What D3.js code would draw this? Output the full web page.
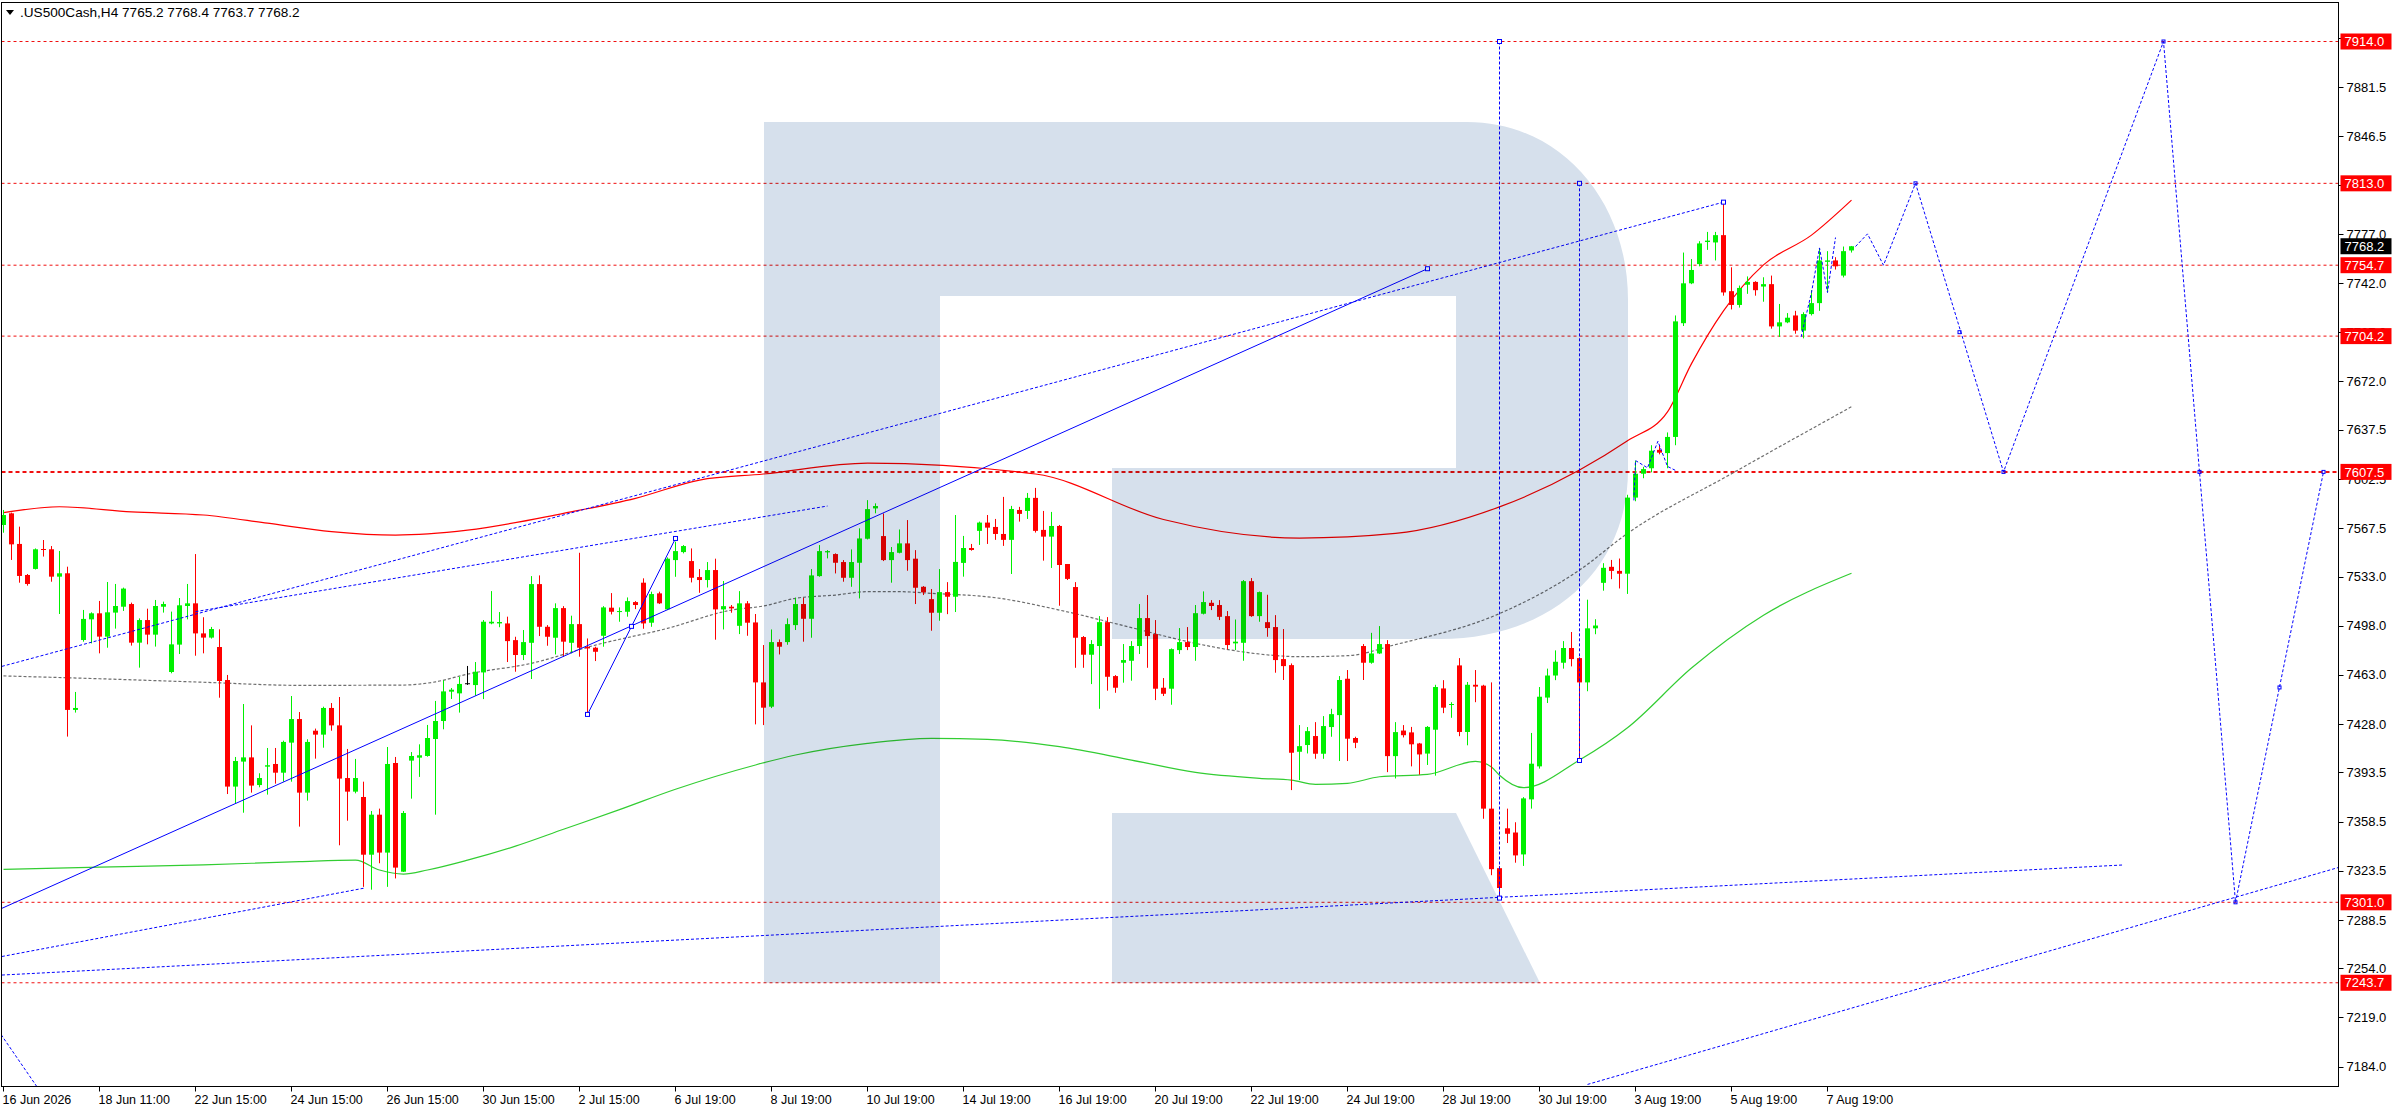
<!DOCTYPE html>
<html>
<head>
<meta charset="utf-8">
<script src="https://cdn.jsdelivr.net/npm/d3@7"></script>
<style>
body { margin: 0; background: #fff; }
svg { display: block; font-family: "Liberation Sans", Arial, sans-serif; }
</style>
</head>
<body>
<svg width="2396" height="1110"></svg>
<script>
// .US500Cash H4 candles, bar 0 = 16 Jun 2026
const opens = [7569.7,7578.0,7556.2,7534.1,7538.4,7552.6,7552.4,7532.9,7535.3,7438.0,
7487.8,7502.5,7506.8,7490.2,7507.3,7511.5,7513.4,7485.9,7502.0,7491.6,
7511.5,7465.0,7484.5,7512.0,7513.9,7492.5,7489.5,7482.8,7459.3,7383.4,
7401.2,7404.2,7384.5,7397.6,7399.5,7393.3,7414.7,7431.5,7379.1,7423.2,
7420.4,7439.4,7427.0,7389.5,7379.8,7376.0,7334.9,7363.4,7336.4,7400.2,
7322.8,7401.9,7404.0,7405.2,7417.3,7430.1,7451.0,7449.8,7457.0,7455.7,
7464.7,7499.6,7499.6,7499.6,7487.7,7477.1,7485.8,7527.6,7497.2,7489.4,
7510.5,7485.8,7499.1,7483.0,7482.3,7490.8,7510.8,7508.0,7507.9,7514.8,
7528.6,7500.1,7521.0,7509.6,7544.7,7550.4,7544.0,7532.6,7530.5,7537.6,
7509.6,7511.5,7497.9,7513.9,7500.3,7457.6,7440.3,7486.3,7486.3,7498.4,
7513.4,7502.9,7533.3,7550.2,7549.0,7543.3,7532.1,7542.8,7559.9,7581.5,
7561.8,7544.7,7549.9,7556.6,7545.7,7525.7,7516.9,7507.2,7521.9,7518.6,
7542.7,7553.3,7565.5,7571.4,7568.3,7563.3,7559.1,7580.4,7579.7,7589.0,
7566.2,7561.4,7569.0,7541.9,7525.5,7489.9,7477.3,7483.5,7500.5,7462.1,
7471.6,7473.0,7483.5,7503.4,7492.0,7453.8,7453.1,7480.6,7486.3,7482.8,
7506.5,7514.3,7512.7,7504.8,7485.4,7485.8,7529.7,7504.8,7500.5,7497.0,
7474.2,7469.9,7408.2,7413.0,7419.4,7406.8,7425.8,7434.3,7460.2,7418.0,
7483.5,7471.6,7478.2,7484.9,7405.1,7423.3,7422.0,7414.1,7406.9,7423.9,
7453.3,7441.9,7469.7,7422.3,7455.9,7455.3,7367.7,7325.3,7353.7,7350.7,
7335.1,7374.3,7397.8,7446.8,7462.5,7471.6,7482.1,7474.9,7457.6,7496.1,
7528.5,7539.9,7537.0,7535.0,7589.2,7606.2,7610.1,7623.2,7620.9,7632.4,
7713.4,7741.8,7755.5,7771.2,7770.9,7776.1,7736.2,7726.4,7740.8,7742.8,
7739.5,7741.2,7711.1,7714.0,7718.9,7708.1,7719.9,7727.7,7757.1,7758.1,
7747.3,7765.2]
const highs = [7580.4,7578.5,7568.5,7534.8,7553.0,7559.0,7554.7,7551.2,7540.0,7450.8,
7509.2,7507.5,7515.6,7529.1,7527.7,7525.1,7514.4,7503.2,7510.1,7516.3,
7515.1,7508.0,7517.7,7527.7,7549.0,7504.0,7497.1,7495.4,7462.9,7404.5,
7442.2,7427.0,7392.9,7410.9,7410.9,7416.1,7447.9,7436.5,7417.1,7424.7,
7440.3,7442.9,7447.2,7410.2,7403.1,7386.9,7366.0,7367.7,7411.6,7404.5,
7366.0,7408.0,7413.5,7427.3,7444.4,7459.1,7453.6,7461.7,7469.3,7472.1,
7502.0,7522.6,7507.7,7504.4,7490.1,7494.9,7533.3,7533.8,7498.4,7513.9,
7511.9,7505.1,7549.9,7488.9,7483.0,7511.9,7521.2,7511.0,7518.1,7515.5,
7531.7,7522.2,7522.2,7546.6,7557.8,7555.4,7553.0,7538.3,7543.3,7545.7,
7529.8,7512.7,7522.6,7515.5,7506.3,7484.2,7495.3,7488.2,7503.2,7517.9,
7517.9,7538.3,7555.4,7551.8,7549.5,7544.7,7552.3,7567.3,7587.4,7585.1,
7577.9,7554.0,7566.5,7573.2,7551.8,7526.2,7524.1,7538.3,7529.0,7576.8,
7561.9,7556.2,7572.1,7576.8,7574.0,7589.7,7583.3,7582.6,7592.5,7596.1,
7579.7,7579.0,7569.7,7541.9,7529.0,7490.6,7487.7,7504.8,7504.1,7462.8,
7484.9,7487.0,7513.4,7519.8,7502.0,7460.7,7481.8,7496.3,7497.0,7512.7,
7522.4,7516.2,7516.2,7508.4,7502.4,7530.5,7531.9,7522.3,7520.0,7505.5,
7495.6,7471.1,7427.2,7425.8,7429.3,7433.6,7438.8,7462.1,7466.4,7418.9,
7484.9,7492.9,7497.7,7487.7,7429.3,7427.2,7425.9,7414.5,7426.5,7455.9,
7459.2,7443.5,7474.9,7457.9,7466.4,7455.9,7457.6,7326.9,7367.7,7358.0,
7375.9,7421.6,7454.3,7467.4,7480.4,7487.0,7493.5,7475.5,7516.5,7502.6,
7542.5,7544.8,7545.8,7591.2,7615.4,7611.1,7626.5,7626.5,7635.6,7718.9,
7763.7,7759.1,7771.8,7778.4,7778.4,7799.0,7753.2,7740.2,7746.7,7743.3,
7746.1,7747.3,7727.1,7720.6,7722.2,7721.2,7736.9,7766.3,7764.7,7760.4,
7768.0,7768.4]
const lows = [7564.2,7544.8,7528.6,7526.5,7538.0,7547.2,7529.3,7506.3,7419.0,7436.1,
7486.6,7485.4,7478.3,7482.3,7495.9,7508.5,7483.8,7468.1,7484.7,7483.1,
7507.3,7464.1,7477.8,7502.5,7476.6,7478.3,7488.8,7446.7,7378.1,7371.5,
7364.8,7379.1,7382.9,7377.7,7385.5,7386.9,7386.9,7354.9,7373.4,7403.3,
7411.1,7423.2,7341.6,7359.1,7378.6,7312.0,7310.0,7328.8,7312.0,7318.0,
7322.6,7374.8,7390.3,7404.7,7363.4,7424.2,7445.8,7436.1,7455.8,7448.1,
7445.7,7499.0,7496.9,7472.1,7465.2,7473.5,7460.0,7490.6,7483.7,7477.5,
7475.9,7478.3,7475.9,7434.8,7472.8,7483.0,7506.0,7500.8,7504.4,7509.8,
7495.8,7497.2,7513.4,7509.1,7532.8,7549.5,7528.8,7521.4,7525.2,7488.0,
7495.3,7507.2,7492.0,7490.8,7427.7,7427.2,7439.3,7477.5,7484.4,7494.9,
7486.6,7489.4,7532.8,7545.9,7535.2,7529.3,7525.7,7517.4,7559.4,7578.0,
7544.0,7528.6,7549.5,7537.1,7513.4,7519.8,7494.4,7501.5,7506.2,7507.7,
7532.9,7551.4,7555.5,7556.2,7559.1,7554.8,7534.8,7572.1,7574.0,7564.3,
7544.3,7539.1,7512.2,7530.5,7468.0,7468.0,7456.4,7438.8,7451.7,7450.2,
7457.4,7458.8,7477.8,7468.0,7445.0,7447.9,7441.7,7477.8,7480.6,7473.0,
7506.0,7509.1,7502.0,7481.1,7480.6,7473.0,7504.3,7500.8,7490.1,7464.5,
7459.3,7380.9,7388.0,7407.0,7403.2,7403.2,7418.9,7401.6,7401.6,7410.8,
7459.3,7470.9,7477.8,7393.7,7389.2,7418.4,7397.8,7391.9,7398.8,7391.2,
7435.7,7432.4,7419.3,7412.8,7443.5,7360.5,7320.3,7304.0,7343.2,7329.2,
7326.9,7367.7,7396.2,7442.9,7459.2,7467.4,7469.0,7402.0,7451.3,7491.9,
7522.9,7531.1,7524.5,7520.6,7586.6,7603.0,7607.2,7620.0,7610.1,7626.5,
7711.4,7741.2,7753.9,7765.6,7758.1,7733.0,7723.2,7724.5,7734.3,7733.0,
7728.7,7709.5,7703.6,7713.4,7705.9,7702.6,7718.9,7722.2,7735.3,7751.6,
7746.0,7763.7]
const closes = [7576.8,7555.9,7533.4,7527.7,7552.4,7552.2,7532.9,7535.3,7438.0,7439.4,
7502.8,7506.8,7490.2,7507.5,7512.0,7524.4,7485.9,7502.0,7491.6,7512.0,
7513.4,7484.7,7512.5,7513.9,7492.5,7489.5,7495.6,7458.6,7383.4,7401.6,
7404.2,7384.1,7389.5,7398.6,7393.3,7415.2,7431.5,7379.1,7415.2,7420.4,
7439.4,7427.0,7389.1,7379.8,7389.5,7334.9,7363.4,7336.4,7399.5,7325.7,
7364.6,7405.2,7405.7,7418.0,7430.1,7451.2,7452.4,7456.5,7457.0,7465.2,
7500.8,7500.8,7500.6,7487.0,7477.1,7486.3,7527.6,7497.2,7490.1,7510.5,
7486.6,7499.1,7482.3,7481.8,7479.4,7511.0,7507.9,7508.4,7515.5,7512.7,
7499.6,7520.5,7513.9,7545.7,7551.1,7554.7,7532.1,7530.5,7537.6,7509.6,
7511.9,7510.3,7513.9,7500.1,7457.6,7439.6,7486.3,7483.0,7499.1,7513.4,
7502.9,7533.8,7551.1,7551.1,7542.8,7532.1,7543.3,7560.1,7581.0,7583.2,
7544.7,7550.4,7556.6,7544.7,7525.0,7521.7,7507.2,7521.9,7518.6,7543.4,
7553.3,7551.9,7571.4,7567.8,7563.3,7559.1,7581.1,7577.6,7589.0,7565.5,
7561.4,7569.0,7541.2,7531.3,7489.4,7477.3,7484.9,7500.5,7461.6,7453.8,
7473.5,7483.5,7503.4,7490.6,7453.1,7449.5,7481.3,7486.3,7482.8,7506.9,
7514.8,7512.0,7504.3,7484.2,7486.6,7529.7,7504.8,7521.9,7496.3,7473.5,
7469.2,7407.5,7412.2,7422.9,7406.8,7426.5,7435.0,7459.3,7417.5,7414.6,
7471.6,7478.2,7484.9,7405.1,7422.2,7420.0,7413.5,7406.3,7425.9,7454.3,
7439.6,7442.2,7422.3,7455.9,7454.6,7367.7,7324.6,7311.2,7349.8,7334.4,
7375.0,7399.7,7447.4,7462.5,7472.3,7482.1,7474.2,7457.6,7496.1,7498.1,
7539.2,7537.0,7535.0,7589.2,7606.2,7609.5,7622.6,7621.2,7632.4,7714.7,
7741.8,7751.3,7770.2,7772.2,7776.1,7735.3,7726.4,7738.5,7742.8,7736.9,
7741.2,7711.1,7714.0,7717.3,7708.1,7719.9,7727.7,7758.1,7758.1,7753.9,
7764.7,7768.2]

// indicator lines, sampled at bar index
const redBars = [0,7,16,25,33,41,49,58,70,79,87,95,108,129,145,162,174,187,197,203,208,211,215,220,226,231]
const redVals = [7578.5,7582.7,7579,7576.8,7571,7565,7562.5,7566,7578,7588.7,7601.7,7606,7613.8,7606,7573.6,7560.4,7563.7,7582.6,7608.8,7629.7,7650.3,7684.6,7722.2,7754.9,7776.1,7801]
const grayBars = [0,12,25,37,50,54,58,66,74,83,91,95,99,104,108,112,116,124,132,141,149,157,162,168,174,187,197,203,216,231]
const grayVals = [7462.2,7460.2,7457.7,7455.5,7455.7,7458,7463.5,7471.2,7484.2,7496.1,7509.1,7512,7517.5,7519.8,7522.2,7522.2,7521,7517.9,7509.1,7496.6,7485.4,7477.8,7475.9,7476.6,7484.5,7506.6,7537.6,7563.7,7606.2,7653.9]
const greenBars = [0,12,25,37,44,47,50,53,58,64,70,77,84,94,99,108,116,123,132,141,149,157,161,164,168,172,178,184,186,187,190,197,203,211,220,231]
const greenVals = [7324.5,7326,7327.6,7330,7331,7324,7321.1,7324,7331,7341,7353,7367,7381.5,7398.8,7405.9,7414.2,7417.8,7417,7411.8,7402.3,7393.5,7389.3,7388,7385,7385.7,7390.4,7392.1,7401.3,7397.3,7391.5,7382.6,7402.3,7425.3,7467.8,7505.4,7535.3]

// horizontal levels and price axis
const levels = [7914.0, 7813.0, 7754.7, 7704.2, 7607.5, 7301.0, 7243.7]
const boldLevel = 7607.5
const lastPrice = 7768.2
const yTicks = [7916.5,7881.5,7846.5,7812.0,7777.0,7742.0,7707.0,7672.0,7637.5,7602.5,7567.5,7533.0,7498.0,7463.0,7428.0,7393.5,7358.5,7323.5,7288.5,7254.0,7219.0,7184.0]
const xTickBars = [0,12,24,36,48,60,72,84,96,108,120,132,144,156,168,180,192,204,216,228]
const xTickLabels = ["16 Jun 2026","18 Jun 11:00","22 Jun 15:00","24 Jun 15:00","26 Jun 15:00","30 Jun 15:00","2 Jul 15:00","6 Jul 19:00","8 Jul 19:00","10 Jul 19:00","14 Jul 19:00","16 Jul 19:00","20 Jul 19:00","22 Jul 19:00","24 Jul 19:00","28 Jul 19:00","30 Jul 19:00","3 Aug 19:00","5 Aug 19:00","7 Aug 19:00"]

// drawn analysis objects: [bar, price]
const solidLines = [
    [[-0.2,7296.7],[178,7752.2]],
    [[73,7434.8],[84,7560.1]]
]
const dottedLines = [
    [[-0.2,7469],[215,7799.6]],
    [[24,7508],[103,7583.2]],
    [[-0.2,7249.2],[265,7327.6]],
    [[-0.2,7262.4],[45,7311]],
    [[198,7171.3],[292,7326]],
    [[-1,7212.6],[4.5,7167]],
    [[187,7914],[187,7304]],
    [[197,7813],[197,7402]],
    [[203.8,7587.2],[204,7615.6],[205.5,7610.4],[206.8,7629.3],[208,7611.4],[209.2,7608]],
    [[224.7,7703.6],[226,7735.3],[227,7767],[228,7735.3],[229,7774.4]],
    [[231.5,7768],[233,7777],[235,7754.7],[239,7813],[250,7607.5],[270,7914],[279,7301],[290,7607.5]]
]
const squares = [[178,7752.2],[73,7434.8],[78.5,7497.5],[84,7560.1],[215,7799.6],[187,7914],[197,7813],[197,7402],[187,7304]]
const forecastMarks = [[239,7813],[244.5,7707],[250,7607.5],[270,7914],[274.5,7607.5],[279,7301],[284.5,7454],[290,7607.5]]

const plot = {left: 1.5, top: 2.5, right: 2338.5, bottom: 1086.5}

const x = d3.scaleLinear().domain([0, 1]).range([3.5, 11.5])
const y = d3.scaleLinear().domain([7184, 7914]).range([1066.6, 41.5])

const svg = d3.select("svg")

svg.append("defs").append("clipPath").attr("id", "clip")
    .append("rect")
    .attr("x", plot.left).attr("y", plot.top)
    .attr("width", plot.right - plot.left).attr("height", plot.bottom - plot.top)

const g = svg.append("g").attr("clip-path", "url(#clip)")

// level lines
g.selectAll("line.level")
    .data(levels)
    .join("line")
    .attr("class", "level")
    .attr("x1", plot.left).attr("x2", plot.right)
    .attr("y1", d => y(d)).attr("y2", d => y(d))
    .attr("stroke", "#f00f0f")
    .attr("stroke-width", d => d === boldLevel ? 2 : 1)
    .attr("stroke-dasharray", d => d === boldLevel ? "4,3" : "3,3")

// indicators
const lineGen = d3.line().x(d => x(d[0])).y(d => y(d[1])).curve(d3.curveMonotoneX)
const zipped = (b, v) => b.map((d, i) => [d, v[i]])

g.append("path").attr("d", lineGen(zipped(greenBars, greenVals)))
    .attr("fill", "none").attr("stroke", "#32cd32").attr("stroke-width", 1.2)
g.append("path").attr("d", lineGen(zipped(grayBars, grayVals)))
    .attr("fill", "none").attr("stroke", "#6e6e6e").attr("stroke-width", 1.2).attr("stroke-dasharray", "3,2")
g.append("path").attr("d", lineGen(zipped(redBars, redVals)))
    .attr("fill", "none").attr("stroke", "#ff0000").attr("stroke-width", 1.2)

// candles
const bars = opens.map((o, i) => ({i: i, o: o, h: highs[i], l: lows[i], c: closes[i]}))
const candleColor = d => d.c > d.o ? "#00f000" : (d.c < d.o ? "#ff0000" : "#000000")

g.selectAll("line.wick")
    .data(bars)
    .join("line")
    .attr("class", "wick")
    .attr("x1", d => x(d.i)).attr("x2", d => x(d.i))
    .attr("y1", d => y(d.h)).attr("y2", d => y(d.l))
    .attr("stroke", candleColor)
    .attr("stroke-width", 1)

g.selectAll("rect.body")
    .data(bars)
    .join("rect")
    .attr("class", "body")
    .attr("x", d => x(d.i) - 2.5)
    .attr("width", 5)
    .attr("y", d => y(Math.max(d.o, d.c)))
    .attr("height", d => Math.max(1, Math.abs(y(d.o) - y(d.c))))
    .attr("fill", candleColor)

// analysis objects
const objLine = d3.line().x(d => x(d[0])).y(d => y(d[1]))

g.selectAll("path.solid")
    .data(solidLines)
    .join("path")
    .attr("class", "solid")
    .attr("d", objLine)
    .attr("fill", "none").attr("stroke", "#0000ff").attr("stroke-width", 1)

g.selectAll("path.dotted")
    .data(dottedLines)
    .join("path")
    .attr("class", "dotted")
    .attr("d", objLine)
    .attr("fill", "none").attr("stroke", "#0000ff").attr("stroke-width", 1).attr("stroke-dasharray", "3,2")

g.selectAll("rect.sq")
    .data(squares)
    .join("rect")
    .attr("class", "sq")
    .attr("x", d => x(d[0]) - 2).attr("y", d => y(d[1]) - 2)
    .attr("width", 4).attr("height", 4)
    .attr("fill", "#fff").attr("stroke", "#0000ff").attr("stroke-width", 1)

g.selectAll("rect.fm")
    .data(forecastMarks)
    .join("rect")
    .attr("class", "fm")
    .attr("x", d => x(d[0]) - 1.5).attr("y", d => y(d[1]) - 1.5)
    .attr("width", 3).attr("height", 3)
    .attr("fill", "none").attr("stroke", "#0000ff").attr("stroke-width", 1)

// watermark logo, multiplied over the chart
g.append("path")
    .attr("d", "M764,122 H1467 C1560,122 1628,200 1628,300 V470 C1628,570 1550,639 1440,639 H1112 V468 H1456 V296 H940 V983 H764 Z")
    .attr("fill", "#d6e0ec")
    .style("mix-blend-mode", "multiply")
g.append("path")
    .attr("d", "M1112,813 H1456 L1540,983 H1112 Z")
    .attr("fill", "#d6e0ec")
    .style("mix-blend-mode", "multiply")

// frame
svg.append("rect")
    .attr("x", plot.left).attr("y", plot.top)
    .attr("width", plot.right - plot.left).attr("height", plot.bottom - plot.top)
    .attr("fill", "none").attr("stroke", "#000").attr("stroke-width", 1)

// price axis
const ya = svg.append("g")
ya.selectAll("line")
    .data(yTicks)
    .join("line")
    .attr("x1", plot.right).attr("x2", plot.right + 5)
    .attr("y1", d => Math.round(y(d)) + 0.5).attr("y2", d => Math.round(y(d)) + 0.5)
    .attr("stroke", "#000")
ya.selectAll("text")
    .data(yTicks)
    .join("text")
    .attr("x", plot.right + 8)
    .attr("y", d => y(d))
    .attr("dy", "0.36em")
    .attr("font-size", 13)
    .attr("fill", "#000")
    .text(d => d.toFixed(1))

const tag = (value, fill) => {
    const t = svg.append("g").attr("transform", `translate(${plot.right + 2},${y(value)})`)
    t.append("rect").attr("x", 0).attr("y", -8).attr("width", 51).attr("height", 16).attr("fill", fill)
    t.append("text").attr("x", 4).attr("y", 0).attr("dy", "0.36em")
        .attr("font-size", 13).attr("fill", "#fff").text(value.toFixed(1))
}
levels.forEach(v => tag(v, "#ff0000"))
tag(lastPrice, "#000000")

// time axis
const xa = svg.append("g")
xa.selectAll("line")
    .data(xTickBars)
    .join("line")
    .attr("x1", d => x(d)).attr("x2", d => x(d))
    .attr("y1", plot.bottom).attr("y2", plot.bottom + 5)
    .attr("stroke", "#000")
xa.selectAll("text")
    .data(xTickBars)
    .join("text")
    .attr("x", d => x(d) - 1)
    .attr("y", plot.bottom + 17)
    .attr("font-size", 12.5)
    .attr("fill", "#000")
    .text((d, i) => xTickLabels[i])

// title
svg.append("path").attr("d", "M6,10 L14,10 L10,15 Z").attr("fill", "#000")
svg.append("text")
    .attr("x", 20).attr("y", 17)
    .attr("font-size", 13.6)
    .attr("fill", "#000")
    .text(".US500Cash,H4  7765.2 7768.4 7763.7 7768.2")
</script>
</body>
</html>
